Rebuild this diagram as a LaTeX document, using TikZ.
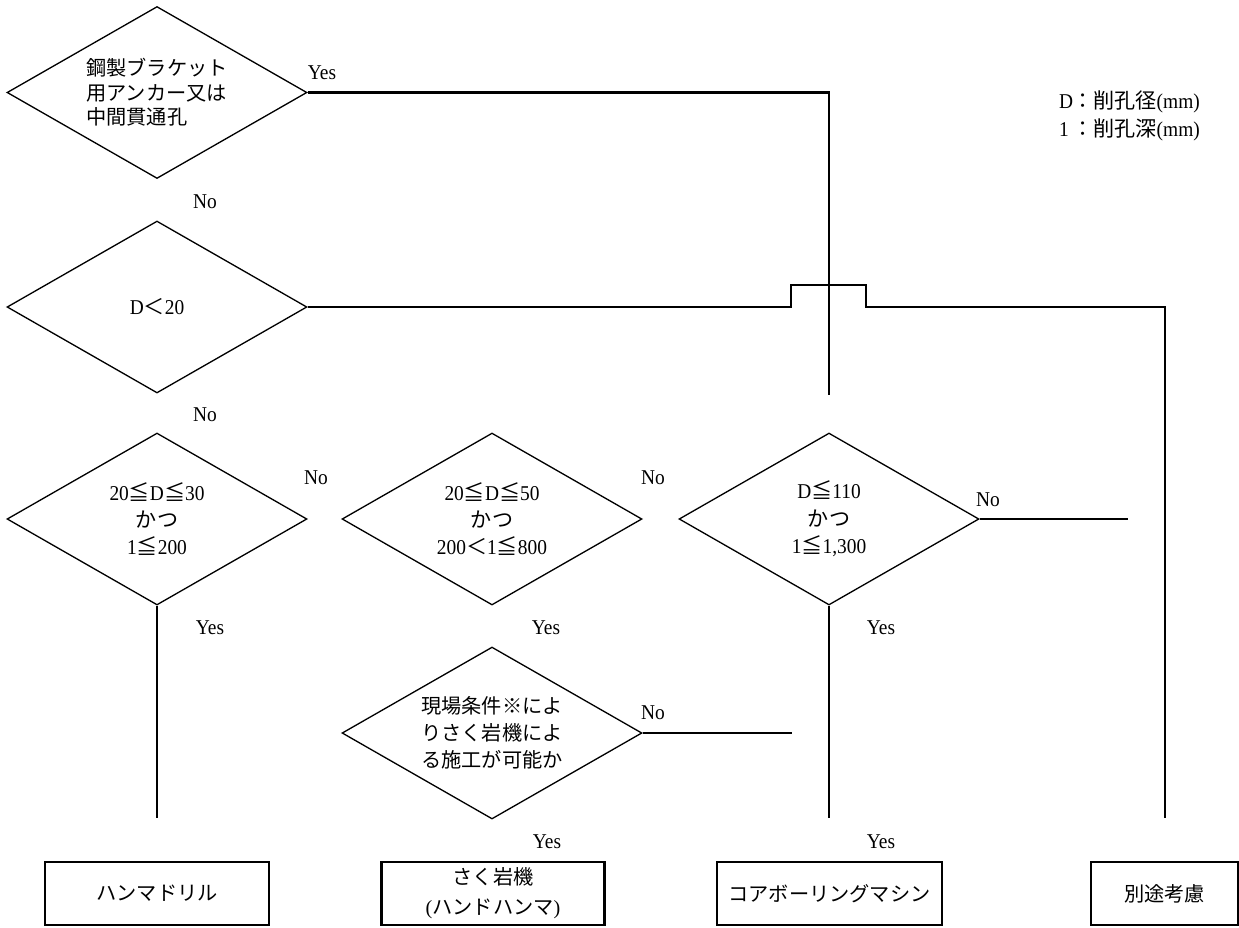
\documentclass[tikz,border=0pt]{standalone}
\usepackage{fontspec}
\setmainfont[FakeStretch=0.92]{Liberation Serif}
\newfontfamily\jp[Scale=1.0]{Noto Sans CJK JP}
\usetikzlibrary{shapes.geometric}
\newcommand{\leqj}{{\jp ≦}}
\newcommand{\ltj}{{\jp ＜}}

\begin{document}
\begin{tikzpicture}[x=0.02cm,y=-0.02cm,font=\fontsize{12}{15}\selectfont,
	decision/.style={diamond,draw,line width=0.75pt,minimum width=6cm,minimum height=3.44cm,inner sep=0pt},
	tool/.style={rectangle,draw,line width=1.5pt,minimum height=1.26cm,inner sep=0pt,align=center,font=\jp\fontsize{11.5}{17}\selectfont},
	cond/.style={align=center,font=\fontsize{12}{15.6}\selectfont},
	conn/.style={line width=1.3pt}]
		\useasboundingbox (0,0) rectangle (1239,927);
		% 判定（ひし形）
		\node [decision](d1) at (157,92.5) {};
		\node [decision](d2) at (157,307) {};
		\node [decision](d3) at (157,519) {};
		\node [decision](d4) at (492,519) {};
		\node [decision](d5) at (829,519) {};
		\node [decision](d6) at (492,733) {};
		\node [align=left,font=\jp\fontsize{11.5}{14}\selectfont](d1t) at (d1) {鋼製ブラケット\\用アンカー又は\\中間貫通孔};
		\node (d2t) at (d2) {D\ltj 20};
		\node [cond](d3t) at (d3) {20\leqj D\leqj 30\\{\jp かつ}\\1\leqj 200};
		\node [cond](d4t) at (d4) {20\leqj D\leqj 50\\{\jp かつ}\\200\ltj 1\leqj 800};
		\node [cond](d5t) at (d5) {D\leqj 110\\{\jp かつ}\\1\leqj 1,300};
		\node [align=center,font=\jp\fontsize{11.5}{15.3}\selectfont](d6t) at (d6) {現場条件※によ\\りさく岩機によ\\る施工が可能か};

		% 結果（四角）
		\node [tool,minimum width=4.48cm](hammer) at (157,893.5) {ハンマドリル};
		\node [tool,minimum width=4.46cm](rock) at (493,893.5) {さく岩機\\{\fontspec{Liberation Serif}(}ハンドハンマ{\fontspec{Liberation Serif})}};
		\node [tool,minimum width=4.5cm](core) at (829.5,893.5) {コアボーリングマシン};
		\node [tool,minimum width=2.94cm](other) at (1164.5,893.5) {別途考慮};

		% 凡例
		\node [align=left,anchor=west,font=\fontsize{12}{16}\selectfont](key) at (1053,116) {\makebox[7.5pt][l]{D}{\jp ：削孔径}(mm)\\\makebox[7.5pt][l]{1}{\jp ：削孔深}(mm)};

		% 線の端
		\coordinate (c1) at (829,395);
		\coordinate (j1) at (791,285);
		\coordinate (j2) at (866,285);
		\coordinate (c2) at (1165,818);
		\coordinate (c3) at (157,818);
		\coordinate (c5) at (829,818);
		\coordinate (c6) at (1128,519);
		\coordinate (c7) at (792,733);

		\draw [conn](d1.east) -| (c1);
		\draw [conn](d2.east) -| (j1) -- (j2) -- (j2 |- d2.east) -| (c2);
		\draw [conn](d3.south) -- (c3);
		\draw [conn](d5.south) -- (c5);
		\draw [conn](d5.east) -- (c6);
		\draw [conn](d6.east) -- (c7);

		% Yes / No
		\node (yes1) at (322,73) {Yes};
		\node (no1) at (205,202) {No};
		\node (no2) at (205,415) {No};
		\node (no3) at (316,478) {No};
		\node (yes3) at (210,628) {Yes};
		\node (no4) at (653,478) {No};
		\node (yes4) at (546,628) {Yes};
		\node (no5) at (988,500) {No};
		\node (yes5) at (881,628) {Yes};
		\node (no6) at (653,713) {No};
		\node (yes6) at (547,842) {Yes};
		\node (yes7) at (881,842) {Yes};
		\end{tikzpicture}
\end{document}
